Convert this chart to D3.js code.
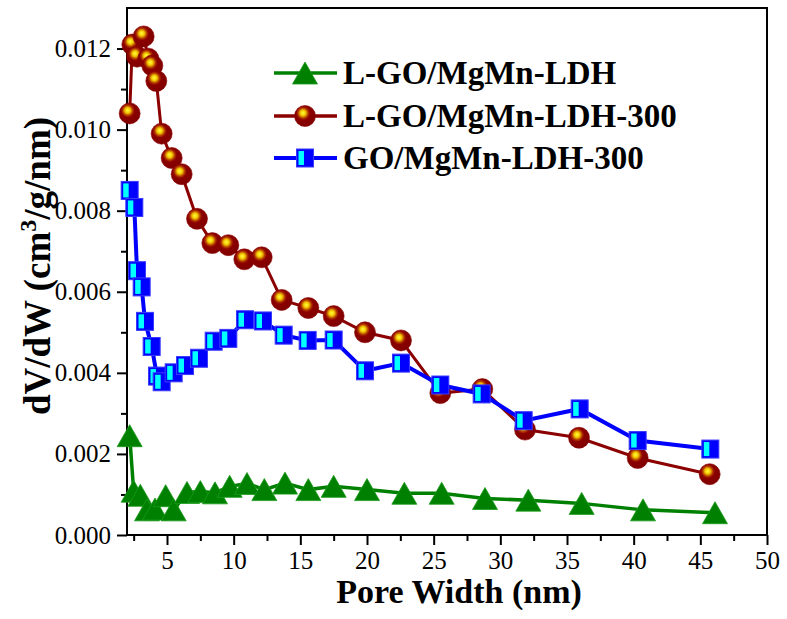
<!DOCTYPE html>
<html>
<head>
<meta charset="utf-8">
<script src="https://cdn.jsdelivr.net/npm/d3@7"></script>
<style>
  html, body { margin: 0; padding: 0; background: #fff; }
  svg { display: block; }
  text { font-family: "Liberation Serif", "Times New Roman", serif; fill: #000; }
</style>
</head>
<body>
<svg id="chart" width="787" height="619"></svg>
<script>
// ---------- data ----------
const seriesNames = ["L-GO/MgMn-LDH", "L-GO/MgMn-LDH-300", "GO/MgMn-LDH-300"];

const greenX = [2.2, 2.5, 3.0, 3.5, 4.1, 4.9, 5.5, 6.5, 7.5, 8.6, 9.7, 11.0, 12.3, 13.85, 15.6, 17.5, 20.0, 22.8, 25.6, 28.85, 32.1, 36.1, 40.7, 46.1];
const greenY = [0.00245, 0.00108, 0.00098, 0.00062, 0.00064, 0.00097, 0.00062, 0.00105, 0.00107, 0.00104, 0.0012, 0.00127, 0.00112, 0.00128, 0.00112, 0.0012, 0.00112, 0.00103, 0.00103, 0.0009, 0.00086, 0.00078, 0.00062, 0.00055];

const redX = [2.2, 2.4, 2.75, 3.25, 3.6, 3.9, 4.2, 4.6, 5.35, 6.1, 7.25, 8.4, 9.6, 10.8, 12.1, 13.6, 15.6, 17.5, 19.85, 22.55, 25.5, 28.65, 31.85, 35.9, 40.3, 45.7];
const redY = [0.0104, 0.0121, 0.0118, 0.0123, 0.01175, 0.01158, 0.0112, 0.0099, 0.0093, 0.0089, 0.0078, 0.0072, 0.00715, 0.0068, 0.00685, 0.0058, 0.0056, 0.0054, 0.0050, 0.0048, 0.0035, 0.0036, 0.0026, 0.0024, 0.0019, 0.0015];

const blueX = [2.2, 2.55, 2.75, 3.1, 3.35, 3.85, 4.25, 4.6, 5.5, 6.35, 7.4, 8.5, 9.6, 10.85, 12.2, 13.75, 15.55, 17.5, 19.85, 22.55, 25.5, 28.6, 31.75, 35.95, 40.3, 45.75];
const blueY = [0.0085, 0.00808, 0.00652, 0.00612, 0.00527, 0.00465, 0.00392, 0.00378, 0.004, 0.00418, 0.00436, 0.00478, 0.00485, 0.00531, 0.00528, 0.00493, 0.0048, 0.00481, 0.00405, 0.00424, 0.0037, 0.00348, 0.00282, 0.00311, 0.00233, 0.00212];

const xMajorTicks = [5, 10, 15, 20, 25, 30, 35, 40, 45, 50];
const xMinorTicks = [2.5, 7.5, 12.5, 17.5, 22.5, 27.5, 32.5, 37.5, 42.5, 47.5];
const yMajorTicks = [0, 0.002, 0.004, 0.006, 0.008, 0.010, 0.012];
const yMinorTicks = [0.001, 0.003, 0.005, 0.007, 0.009, 0.011];

const xTitle = "Pore Width (nm)";

// ---------- layout ----------
const pLeft = 127, pRight = 767, pTop = 8, pBottom = 535;
const svg = d3.select("#chart");

const x = d3.scaleLinear().domain([2, 50]).range([pLeft, pRight]);
const y = d3.scaleLinear().domain([0, 0.013]).range([pBottom, pTop]);

// defs: gradient for spheres
const defs = svg.append("defs");
const grad = defs.append("radialGradient").attr("id", "ball")
  .attr("cx", "42%").attr("cy", "38%").attr("r", "60%").attr("fx", "40%").attr("fy", "35%");
grad.append("stop").attr("offset", "0%").attr("stop-color", "#ffff40");
grad.append("stop").attr("offset", "22%").attr("stop-color", "#f2c400");
grad.append("stop").attr("offset", "40%").attr("stop-color", "#b23a00");
grad.append("stop").attr("offset", "55%").attr("stop-color", "#8b0000");
grad.append("stop").attr("offset", "100%").attr("stop-color", "#800000");

// ---------- axes ----------
const axX = svg.append("g").attr("transform", `translate(0,${pBottom})`)
  .call(d3.axisBottom(x).tickValues(xMajorTicks).tickSize(10).tickSizeOuter(0).tickPadding(6).tickFormat(d3.format("d")));
const axXm = svg.append("g").attr("transform", `translate(0,${pBottom})`)
  .call(d3.axisBottom(x).tickValues(xMinorTicks).tickSize(6).tickSizeOuter(0).tickFormat(""));
const axY = svg.append("g").attr("transform", `translate(${pLeft},0)`)
  .call(d3.axisLeft(y).tickValues(yMajorTicks).tickSize(10).tickSizeOuter(0).tickPadding(6).tickFormat(d3.format(".3f")));
const axYm = svg.append("g").attr("transform", `translate(${pLeft},0)`)
  .call(d3.axisLeft(y).tickValues(yMinorTicks).tickSize(6).tickSizeOuter(0).tickFormat(""));

[axX, axXm, axY, axYm].forEach(g => {
  g.select(".domain").remove();
  g.selectAll(".tick line").attr("stroke", "#000").attr("stroke-width", 2);
  g.selectAll(".tick text").attr("font-size", 25).attr("font-family", "'Liberation Serif','Times New Roman',serif").attr("fill", "#000");
});

// frame
svg.append("rect").attr("x", pLeft).attr("y", pTop).attr("width", pRight - pLeft).attr("height", pBottom - pTop)
  .attr("fill", "none").attr("stroke", "#000").attr("stroke-width", 2);

// ---------- series ----------
const line = d3.line().x(d => x(d[0])).y(d => y(d[1]));
const zip = (a, b) => a.map((v, i) => [v, b[i]]);

const gData = zip(greenX, greenY), rData = zip(redX, redY), bData = zip(blueX, blueY);

const plot = svg.append("g");

function triangle(g, cx, cy) {
  const w = 25, h = 22;
  g.append("path").attr("d", `M${cx},${cy - h / 2}L${cx + w / 2},${cy + h / 2}L${cx - w / 2},${cy + h / 2}Z`)
    .attr("fill", "#008000").attr("stroke", "#1a9a1a").attr("stroke-width", 0.8);
}
function ball(g, cx, cy) {
  g.append("circle").attr("cx", cx).attr("cy", cy).attr("r", 10.5).attr("fill", "url(#ball)")
    .attr("stroke", "#8b0000").attr("stroke-width", 0.6);
}
function square(g, cx, cy) {
  const w = 17, h = 18;
  g.append("rect").attr("x", cx - w / 2).attr("y", cy - h / 2).attr("width", w).attr("height", h)
    .attr("fill", "#0000ff").attr("stroke", "#3a3aff").attr("stroke-width", 1);
  g.append("rect").attr("x", cx - w / 2 + 2).attr("y", cy - h / 2 + 2).attr("width", 5.5).attr("height", h - 4)
    .attr("fill", "#00ffff");
}

// green
plot.append("path").datum(gData).attr("d", line).attr("fill", "none").attr("stroke", "#008000").attr("stroke-width", 3.5);
const gg = plot.append("g");
gData.forEach(d => triangle(gg, x(d[0]), y(d[1])));
// red
plot.append("path").datum(rData).attr("d", line).attr("fill", "none").attr("stroke", "#8b0000").attr("stroke-width", 3);
const rg = plot.append("g");
rData.forEach(d => ball(rg, x(d[0]), y(d[1])));
// blue
plot.append("path").datum(bData).attr("d", line).attr("fill", "none").attr("stroke", "#0000ff").attr("stroke-width", 4);
const bg = plot.append("g");
bData.forEach(d => square(bg, x(d[0]), y(d[1])));

// ---------- legend ----------
const legend = svg.append("g");
const legY = [73, 116, 158];
const legColors = ["#008000", "#8b0000", "#0000ff"];
const legMarkers = [triangle, ball, square];
seriesNames.forEach((name, i) => {
  legend.append("line").attr("x1", 274).attr("x2", 337).attr("y1", legY[i]).attr("y2", legY[i])
    .attr("stroke", legColors[i]).attr("stroke-width", i === 2 ? 4 : 3.5);
  legMarkers[i](legend, 305, legY[i]);
  legend.append("text").attr("x", 343).attr("y", legY[i] + 11).attr("font-size", 33).attr("font-weight", "bold")
    .text(name);
});

// ---------- titles ----------
svg.append("text").attr("x", 459).attr("y", 603).attr("text-anchor", "middle")
  .attr("font-size", 34).attr("font-weight", "bold").text(xTitle);

const yt = svg.append("text").attr("transform", "translate(50,266) rotate(-90)").attr("text-anchor", "middle")
  .attr("font-size", 37).attr("font-weight", "bold");
yt.append("tspan").text("dV/dW (cm");
yt.append("tspan").attr("font-size", 24).attr("dy", -14).text("3");
yt.append("tspan").attr("dy", 14).text("/g/nm)");
</script>
</body>
</html>
